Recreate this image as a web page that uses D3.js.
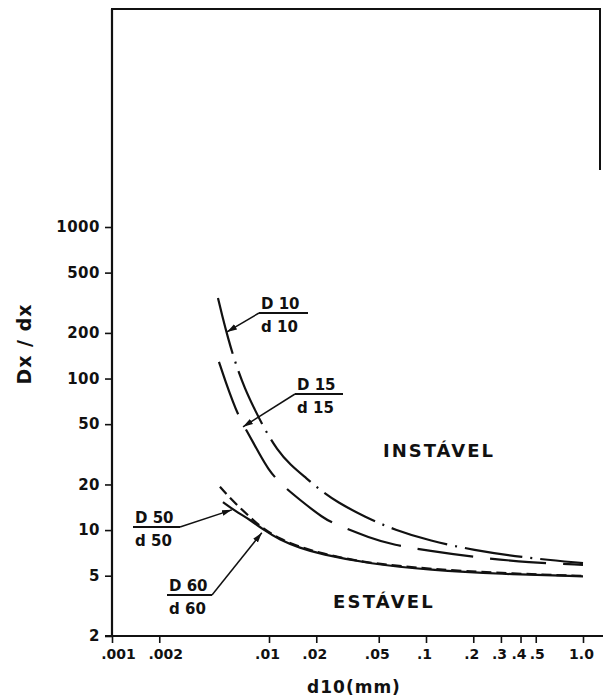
<!DOCTYPE html>
<html>
<head>
<meta charset="utf-8">
<script src="https://cdn.jsdelivr.net/npm/d3@7"></script>
<style>
  body { margin: 0; background: #fff; }
  svg { display: block; background: #fff; }
  text { font-family: "DejaVu Sans", sans-serif; font-weight: bold; fill: #111; }
</style>
</head>
<body>
<svg id="svg" width="603" height="700"></svg>
<script>
// ticks
var xTicks = [0.001, 0.002, 0.01, 0.02, 0.05, 0.1, 0.2, 0.3, 0.4, 0.5, 1.0];
var xTickLabels = [".001", ".002", ".01", ".02", ".05", ".1", ".2", ".3", ".4", ".5", "1.0"];
var yTicks = [2, 5, 10, 20, 50, 100, 200, 500, 1000];
var yTickLabels = ["2", "5", "10", "20", "50", "100", "200", "500", "1000"];

// curves (d10 in mm, Dx/dx)
var d10X = [0.00473, 0.00502, 0.00548, 0.00607, 0.00703, 0.00814, 0.00943, 0.01125, 0.0136, 0.0175, 0.0211, 0.0271, 0.0409, 0.0635, 0.106, 0.196, 0.459, 1.0];
var d10Y = [340, 263, 185, 129, 85, 62, 45.8, 34.0, 27.0, 21.8, 18.4, 15.3, 12.2, 10.0, 8.5, 7.4, 6.5, 6.06];

var d15X = [0.0048, 0.00532, 0.0059, 0.00644, 0.00757, 0.00877, 0.00986, 0.01175, 0.01576, 0.0221, 0.0271, 0.044, 0.0617, 0.106, 0.196, 0.459, 1.0];
var d15Y = [129, 93.6, 70.0, 55.8, 41.2, 31.3, 25.3, 20.3, 15.8, 12.0, 10.8, 8.87, 7.98, 7.28, 6.65, 6.1, 5.9];

var d50X = [0.00487, 0.00548, 0.00654, 0.00757, 0.00902, 0.01175, 0.01576, 0.0211, 0.0305, 0.044, 0.106, 0.296, 1.0];
var d50Y = [19.3, 16.8, 14.0, 12.2, 10.3, 8.73, 7.74, 7.06, 6.5, 6.06, 5.53, 5.2, 4.98];

var d60X = [0.00509, 0.00607, 0.00757, 0.00902, 0.01175, 0.01576, 0.0211, 0.044, 0.106, 0.296, 1.0];
var d60Y = [15.3, 13.4, 11.7, 10.2, 8.6, 7.62, 6.95, 5.98, 5.45, 5.13, 4.95];

// where each label's arrow touches its curve
var labelNames = ["10", "15", "50", "60"];
var arrowTipX = [0.0054, 0.00683, 0.0058, 0.009];
var arrowTipY = [203, 48, 13.6, 9.6];

var svg = d3.select("#svg");

var x = d3.scaleLog().domain([0.001, 1]).range([112, 583]);
var y = d3.scaleLog().domain([2, 1000]).range([636, 227]);

// frame
svg.append("line").attr("x1", 112).attr("x2", 112).attr("y1", 9).attr("y2", 636)
    .attr("stroke", "#111").attr("stroke-width", 2.2);
svg.append("line").attr("x1", 111).attr("x2", 601).attr("y1", 9).attr("y2", 9)
    .attr("stroke", "#111").attr("stroke-width", 2);
svg.append("line").attr("x1", 600).attr("x2", 600).attr("y1", 8).attr("y2", 170)
    .attr("stroke", "#111").attr("stroke-width", 2);
svg.append("line").attr("x1", 105).attr("x2", 603).attr("y1", 636).attr("y2", 636)
    .attr("stroke", "#111").attr("stroke-width", 2);

// axes
var xAxis = svg.append("g")
    .attr("transform", "translate(0,636)")
    .call(d3.axisBottom(x).tickValues(xTicks).tickFormat((d, i) => xTickLabels[i]).tickSize(7).tickPadding(6));
xAxis.select(".domain").remove();
xAxis.selectAll("line").attr("stroke", "#111").attr("stroke-width", 1.6);
xAxis.selectAll("text")
    .style("font-size", "14px")
    .attr("dx", (d, i) => i < 2 ? 6 : (d == 0.5 ? 1 : -2));

var yAxis = svg.append("g")
    .attr("transform", "translate(112,0)")
    .call(d3.axisLeft(y).tickValues(yTicks).tickFormat((d, i) => yTickLabels[i]).tickSize(7).tickPadding(5));
yAxis.select(".domain").remove();
yAxis.selectAll("line").attr("stroke", "#111").attr("stroke-width", 1.6);
yAxis.selectAll("text").style("font-size", "15px").style("letter-spacing", "0.5px");

// axis titles
svg.append("text")
    .attr("transform", "translate(31,344) rotate(-90)")
    .attr("text-anchor", "middle")
    .style("font-size", "19px")
    .style("letter-spacing", "1px")
    .text("Dx / dx");

svg.append("text")
    .attr("x", 354)
    .attr("y", 693)
    .attr("text-anchor", "middle")
    .style("font-size", "17px")
    .style("letter-spacing", "1px")
    .text("d10(mm)");

svg.append("text").attr("x", 383).attr("y", 457)
    .style("font-size", "18px").style("letter-spacing", "2px").text("INSTÁVEL");
svg.append("text").attr("x", 333).attr("y", 608)
    .style("font-size", "18px").style("letter-spacing", "2.2px").text("ESTÁVEL");

// curves
var line = d3.line()
    .x(d => x(d[0]))
    .y(d => y(d[1]))
    .curve(d3.curveBasis);

var series = [
  {xs: d10X, ys: d10Y, dash: "58,8,2,8"},
  {xs: d15X, ys: d15Y, dash: "56,17"},
  {xs: d50X, ys: d50Y, dash: "10,5"},
  {xs: d60X, ys: d60Y, dash: null}
];

svg.append("g")
  .selectAll("path")
  .data(series)
  .join("path")
    .attr("d", s => line(s.xs.map((v, i) => [v, s.ys[i]])))
    .attr("fill", "none")
    .attr("stroke", "#111")
    .attr("stroke-width", 2.2)
    .attr("stroke-dasharray", s => s.dash);

// labels with arrows
svg.append("defs").append("marker")
    .attr("id", "arrow")
    .attr("viewBox", "0 -4 10 8")
    .attr("refX", 10)
    .attr("refY", 0)
    .attr("markerWidth", 10)
    .attr("markerHeight", 8)
    .attr("markerUnits", "userSpaceOnUse")
    .attr("orient", "auto")
  .append("path")
    .attr("d", "M0,-3L10,0L0,3Z")
    .attr("fill", "#111");

// underline start, underline end, leader starts from left (0) or right (1) end
var labelBox = [
  {x0: 259, x1: 308, y: 313, from: 0},
  {x0: 295, x1: 343, y: 394, from: 0},
  {x0: 133, x1: 180, y: 527, from: 1},
  {x0: 167, x1: 212, y: 595, from: 1}
];

labelNames.forEach(function(name, i) {
  var b = labelBox[i];
  var g = svg.append("g");
  g.append("text").attr("x", b.x0 + 2).attr("y", b.y - 4)
      .style("font-size", "15px").text("D " + name);
  g.append("text").attr("x", b.x0 + 2).attr("y", b.y + 19)
      .style("font-size", "15px").text("d " + name);
  g.append("line").attr("x1", b.x0).attr("x2", b.x1).attr("y1", b.y).attr("y2", b.y)
      .attr("stroke", "#111").attr("stroke-width", 1.8);
  var sx = b.from ? b.x1 : b.x0;
  g.append("line")
      .attr("x1", sx).attr("y1", b.y)
      .attr("x2", x(arrowTipX[i])).attr("y2", y(arrowTipY[i]))
      .attr("stroke", "#111").attr("stroke-width", 1.5)
      .attr("marker-end", "url(#arrow)");
});
</script>
</body>
</html>
